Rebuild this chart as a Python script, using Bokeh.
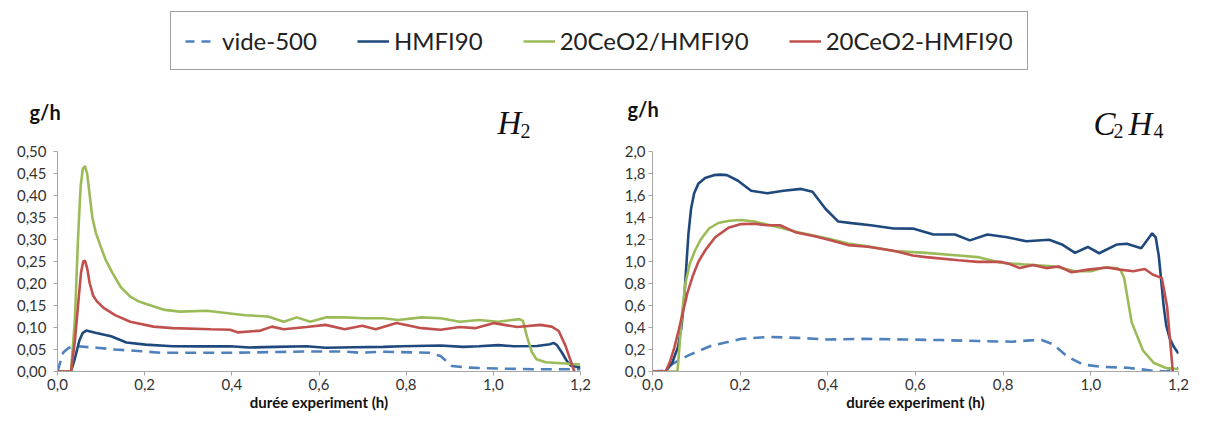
from bokeh.plotting import figure
from bokeh.models import (Range1d, FixedTicker, CustomJSTickFormatter, Legend, LegendItem)
from bokeh.core.properties import value
from bokeh.layouts import column, row
from bokeh.embed import file_html
from bokeh.resources import INLINE

# ---------------- data ----------------
series_names = ["vide-500", "HMFI90", "20CeO2/HMFI90", "20CeO2-HMFI90"]

# H2 (g/h) vs duration (h)
t_vide_h2 = [0.0, 0.006, 0.013, 0.026, 0.044, 0.09, 0.132, 0.193, 0.237, 0.308, 0.396, 0.483, 0.571,
             0.659, 0.695, 0.747, 0.853, 0.879, 0.905, 0.941, 1.011, 1.099, 1.2]
y_vide_h2 = [0.0, 0.02, 0.043, 0.054, 0.0575, 0.054, 0.050, 0.046, 0.0425, 0.0425, 0.0425, 0.044, 0.0455,
             0.0455, 0.0425, 0.045, 0.0425, 0.035, 0.0125, 0.009, 0.0067, 0.005, 0.005]

t_hmfi_h2 = [0.0, 0.031, 0.04, 0.05, 0.058, 0.066, 0.075, 0.087, 0.097, 0.123, 0.158, 0.202, 0.264, 0.33,
             0.396, 0.44, 0.5, 0.571, 0.615, 0.68, 0.747, 0.791, 0.879, 0.93, 0.967, 1.011, 1.046, 1.1, 1.13,
             1.138, 1.146, 1.158, 1.168, 1.178, 1.2]
y_hmfi_h2 = [0.0, 0.0, 0.03, 0.07, 0.088, 0.093, 0.091, 0.088, 0.086, 0.080, 0.066, 0.061, 0.0575, 0.057,
             0.0575, 0.0545, 0.056, 0.0575, 0.054, 0.055, 0.056, 0.0575, 0.059, 0.056, 0.0575, 0.060, 0.0575,
             0.058, 0.062, 0.065, 0.06, 0.042, 0.025, 0.013, 0.009]

t_ceimp_h2 = [0.0, 0.031, 0.04, 0.047, 0.053, 0.058, 0.063, 0.068, 0.074, 0.08, 0.088, 0.097, 0.11, 0.126,
              0.145, 0.167, 0.185, 0.202, 0.246, 0.281, 0.343, 0.396, 0.431, 0.483, 0.519, 0.549, 0.58, 0.615,
              0.659, 0.703, 0.747, 0.782, 0.835, 0.879, 0.923, 0.967, 1.011, 1.06, 1.068, 1.077, 1.088, 1.099,
              1.12, 1.2]
y_ceimp_h2 = [0.0, 0.0, 0.12, 0.30, 0.42, 0.46, 0.467, 0.45, 0.40, 0.35, 0.315, 0.29, 0.255, 0.224,
              0.192, 0.170, 0.160, 0.154, 0.140, 0.136, 0.138, 0.132, 0.128, 0.125, 0.113, 0.123, 0.113, 0.123,
              0.123, 0.121, 0.121, 0.117, 0.123, 0.121, 0.113, 0.117, 0.113, 0.119, 0.115, 0.08, 0.045, 0.028,
              0.021, 0.016]

t_cemix_h2 = [0.0, 0.031, 0.04, 0.048, 0.054, 0.059, 0.063, 0.068, 0.074, 0.082, 0.09, 0.105, 0.132, 0.167,
              0.22, 0.264, 0.352, 0.396, 0.413, 0.466, 0.492, 0.519, 0.571, 0.615, 0.659, 0.699, 0.73, 0.778,
              0.835, 0.879, 0.923, 0.958, 1.002, 1.055, 1.108, 1.134, 1.15, 1.165, 1.186]
y_cemix_h2 = [0.0, 0.0, 0.07, 0.16, 0.225, 0.25, 0.252, 0.235, 0.20, 0.172, 0.16, 0.145, 0.128, 0.113,
              0.102, 0.0985, 0.096, 0.095, 0.089, 0.093, 0.102, 0.096, 0.101, 0.106, 0.096, 0.104, 0.096, 0.110,
              0.0985, 0.095, 0.101, 0.0985, 0.110, 0.101, 0.106, 0.102, 0.092, 0.06, 0.0]

# C2H4 (g/h) vs duration (h)
t_vide_c2 = [0.0, 0.023, 0.049, 0.083, 0.134, 0.203, 0.263, 0.331, 0.40, 0.485, 0.571, 0.656, 0.742, 0.819,
             0.862, 0.888, 0.913, 0.947, 0.982, 1.025, 1.084, 1.144, 1.17, 1.2]
y_vide_c2 = [0.0, 0.006, 0.077, 0.149, 0.234, 0.297, 0.314, 0.306, 0.291, 0.297, 0.291, 0.286, 0.277, 0.271,
             0.283, 0.286, 0.249, 0.134, 0.063, 0.043, 0.034, 0.006, 0.0, 0.034]

t_hmfi_c2 = [0.0, 0.03, 0.045, 0.058, 0.066, 0.072, 0.077, 0.082, 0.088, 0.095, 0.105, 0.12, 0.14, 0.155,
             0.17, 0.195, 0.225, 0.262, 0.299, 0.339, 0.365, 0.395, 0.424, 0.454, 0.498, 0.55, 0.594, 0.639,
             0.69, 0.724, 0.764, 0.809, 0.853, 0.905, 0.934, 0.964, 0.993, 1.019, 1.06, 1.082, 1.115, 1.14,
             1.148, 1.155, 1.16, 1.166, 1.172, 1.18, 1.19, 1.2]
y_hmfi_c2 = [0.0, 0.0, 0.08, 0.22, 0.4, 0.65, 0.95, 1.25, 1.48, 1.62, 1.71, 1.76, 1.785, 1.79,
             1.785, 1.734, 1.643, 1.62, 1.643, 1.66, 1.634, 1.477, 1.363, 1.349, 1.329, 1.30, 1.299, 1.247,
             1.245, 1.192, 1.245, 1.221, 1.184, 1.198, 1.155, 1.078, 1.132, 1.075, 1.155, 1.161, 1.121, 1.256,
             1.22, 1.05, 0.85, 0.6, 0.42, 0.3, 0.22, 0.163]

t_ceimp_c2 = [0.0, 0.057, 0.062, 0.068, 0.075, 0.085, 0.097, 0.11, 0.129, 0.15, 0.175, 0.202, 0.232, 0.269,
              0.299, 0.335, 0.402, 0.446, 0.498, 0.55, 0.624, 0.698, 0.742, 0.794, 0.846, 0.919, 0.964, 1.0,
              1.03, 1.06, 1.068, 1.076, 1.093, 1.119, 1.144, 1.17, 1.2]
y_ceimp_c2 = [0.0, 0.0, 0.25, 0.55, 0.8, 0.98, 1.1, 1.2, 1.3, 1.35, 1.37, 1.377, 1.363, 1.329,
              1.30, 1.263, 1.206, 1.163, 1.134, 1.095, 1.078, 1.055, 1.040, 0.989, 0.974, 0.954, 0.911, 0.911,
              0.946, 0.94, 0.92, 0.85, 0.449, 0.191, 0.077, 0.034, 0.02]

t_cemix_c2 = [0.0, 0.03, 0.04, 0.05, 0.06, 0.07, 0.08, 0.092, 0.105, 0.121, 0.143, 0.173, 0.202, 0.232,
              0.262, 0.291, 0.328, 0.365, 0.402, 0.446, 0.491, 0.55, 0.594, 0.624, 0.698, 0.742, 0.794, 0.816,
              0.838, 0.868, 0.898, 0.927, 0.956, 0.993, 1.038, 1.067, 1.097, 1.123, 1.141, 1.162, 1.174, 1.187]
y_cemix_c2 = [0.0, 0.0, 0.09, 0.22, 0.38, 0.55, 0.72, 0.87, 1.0, 1.106, 1.22, 1.306, 1.34, 1.343,
              1.329, 1.329, 1.263, 1.234, 1.197, 1.149, 1.134, 1.098, 1.055, 1.04, 1.011, 0.997, 0.997, 0.974,
              0.94, 0.969, 0.94, 0.954, 0.902, 0.926, 0.946, 0.926, 0.911, 0.932, 0.882, 0.849, 0.59, 0.0]

x_ticks = [0.0, 0.2, 0.4, 0.6, 0.8, 1.0, 1.2]
y_ticks_h2 = [0.0, 0.05, 0.10, 0.15, 0.20, 0.25, 0.30, 0.35, 0.40, 0.45, 0.50]
y_ticks_c2 = [0.0, 0.2, 0.4, 0.6, 0.8, 1.0, 1.2, 1.4, 1.6, 1.8, 2.0]
x_label = "durée experiment (h)"
unit_label = "g/h"
title_h2 = ["H", "2"]
title_c2 = ["C", "2", "H", "4"]

# ---------------- styles ----------------
COL_VIDE = "#4F81BD"
COL_HMFI = "#1F497D"
COL_IMP = "#9BBB59"
COL_MIX = "#C0504D"
LW = 2.6
DASH = "11 7"
FONT = "Lato"
SERIF = "Liberation Serif"
AXIS_COL = "#A6A6A6"
TXT_COL = "#333333"


def style_axes(p, yticks, ydec, ylabel_standoff):
    p.xaxis.ticker = FixedTicker(ticks=x_ticks)
    p.yaxis.ticker = FixedTicker(ticks=yticks)
    p.xaxis.formatter = CustomJSTickFormatter(code="return tick.toFixed(1).replace('.', ',');")
    p.yaxis.formatter = CustomJSTickFormatter(code="return tick.toFixed(%d).replace('.', ',');" % ydec)
    for ax in (p.xaxis, p.yaxis):
        ax.axis_line_color = AXIS_COL
        ax.axis_line_width = 1
        ax.major_tick_line_color = AXIS_COL
        ax.major_tick_in = 0
        ax.major_tick_out = 4
        ax.minor_tick_line_color = None
        ax.major_label_text_font = FONT
        ax.major_label_text_font_size = "15px"
        ax.major_label_text_color = TXT_COL
    p.xaxis.major_label_standoff = 3
    p.yaxis.major_label_standoff = ylabel_standoff
    p.xaxis.axis_label = x_label
    p.xaxis.axis_label_text_font = FONT
    p.xaxis.axis_label_text_font_style = "bold"
    p.xaxis.axis_label_text_font_size = "15px"
    p.xaxis.axis_label_text_color = "#111111"
    p.xaxis.axis_label_standoff = 0
    p.xgrid.grid_line_color = None
    p.ygrid.grid_line_color = None
    p.outline_line_color = None


def add_lines(p, data):
    (tv, yv), (th, yh), (ti, yi), (tm, ym) = data
    p.line(tv, yv, line_color=COL_VIDE, line_width=LW, line_dash=DASH)
    p.line(th, yh, line_color=COL_HMFI, line_width=LW)
    p.line(ti, yi, line_color=COL_IMP, line_width=LW)
    p.line(tm, ym, line_color=COL_MIX, line_width=LW)


# ---------------- top band: legend, units, titles ----------------
TOP_H = 142
p_top = figure(width=1190, height=TOP_H, toolbar_location=None, output_backend="svg",
               x_axis_type=None, y_axis_type=None, x_range=Range1d(0, 1190), y_range=Range1d(TOP_H, 0),
               min_border=0, outline_line_color=None)
p_top.xgrid.grid_line_color = None
p_top.ygrid.grid_line_color = None

# legend proxies (placed outside the visible range)
r1 = p_top.line([-50, -40], [-50, -40], line_color=COL_VIDE, line_width=LW, line_dash="9 7")
r2 = p_top.line([-50, -40], [-50, -40], line_color=COL_HMFI, line_width=LW)
r3 = p_top.line([-50, -40], [-50, -40], line_color=COL_IMP, line_width=LW)
r4 = p_top.line([-50, -40], [-50, -40], line_color=COL_MIX, line_width=LW)
legend = Legend(items=[LegendItem(label=series_names[0], renderers=[r1]),
                       LegendItem(label=series_names[1], renderers=[r2]),
                       LegendItem(label=series_names[2], renderers=[r3]),
                       LegendItem(label=series_names[3], renderers=[r4])],
                orientation="horizontal", location=(170, TOP_H - 70),
                label_text_font=FONT, label_text_font_size="24px", label_text_color="#222222",
                glyph_width=32, glyph_height=20, label_standoff=5, spacing=40,
                padding=14, margin=0, border_line_color="#404040", border_line_width=1)
p_top.add_layout(legend, "center")

# unit labels "g/h" (vertically centred on y)
p_top.text(x=[29, 627], y=[111, 108], text=[unit_label, unit_label],
           text_font=value(FONT), text_font_style="bold", text_font_size="20px",
           text_color="#111111", text_align="left", text_baseline="middle")
# chemical species titles
p_top.text(x=[497, 1093, 1128], y=[122, 123, 123], text=[title_h2[0], title_c2[0], title_c2[2]],
           text_font=value(SERIF), text_font_style="italic", text_font_size="33px",
           text_color="#111111", text_align="left", text_baseline="middle")
p_top.text(x=[520, 1113, 1153], y=[130, 130, 130], text=[title_h2[1], title_c2[1], title_c2[3]],
           text_font=value(SERIF), text_font_size="20px",
           text_color="#111111", text_align="left", text_baseline="middle")

CH = 416 - TOP_H

# ---------------- H2 figure ----------------
p1 = figure(width=600, height=CH, toolbar_location=None, output_backend="svg",
            x_range=Range1d(0, 1.2), y_range=Range1d(0, 0.5),
            min_border_left=57, min_border_right=20, min_border_top=9, min_border_bottom=45)
style_axes(p1, y_ticks_h2, 2, 7)
add_lines(p1, [(t_vide_h2, y_vide_h2), (t_hmfi_h2, y_hmfi_h2),
               (t_ceimp_h2, y_ceimp_h2), (t_cemix_h2, y_cemix_h2)])

# ---------------- C2H4 figure ----------------
p2 = figure(width=590, height=CH, toolbar_location=None, output_backend="svg",
            x_range=Range1d(0, 1.2), y_range=Range1d(0, 2.0),
            min_border_left=52, min_border_right=12, min_border_top=9, min_border_bottom=45)
style_axes(p2, y_ticks_c2, 1, 3)
add_lines(p2, [(t_vide_c2, y_vide_c2), (t_hmfi_c2, y_hmfi_c2),
               (t_ceimp_c2, y_ceimp_c2), (t_cemix_c2, y_cemix_c2)])

layout = column(p_top, row(p1, p2))
open("out.html", "w").write(file_html(layout, INLINE))
